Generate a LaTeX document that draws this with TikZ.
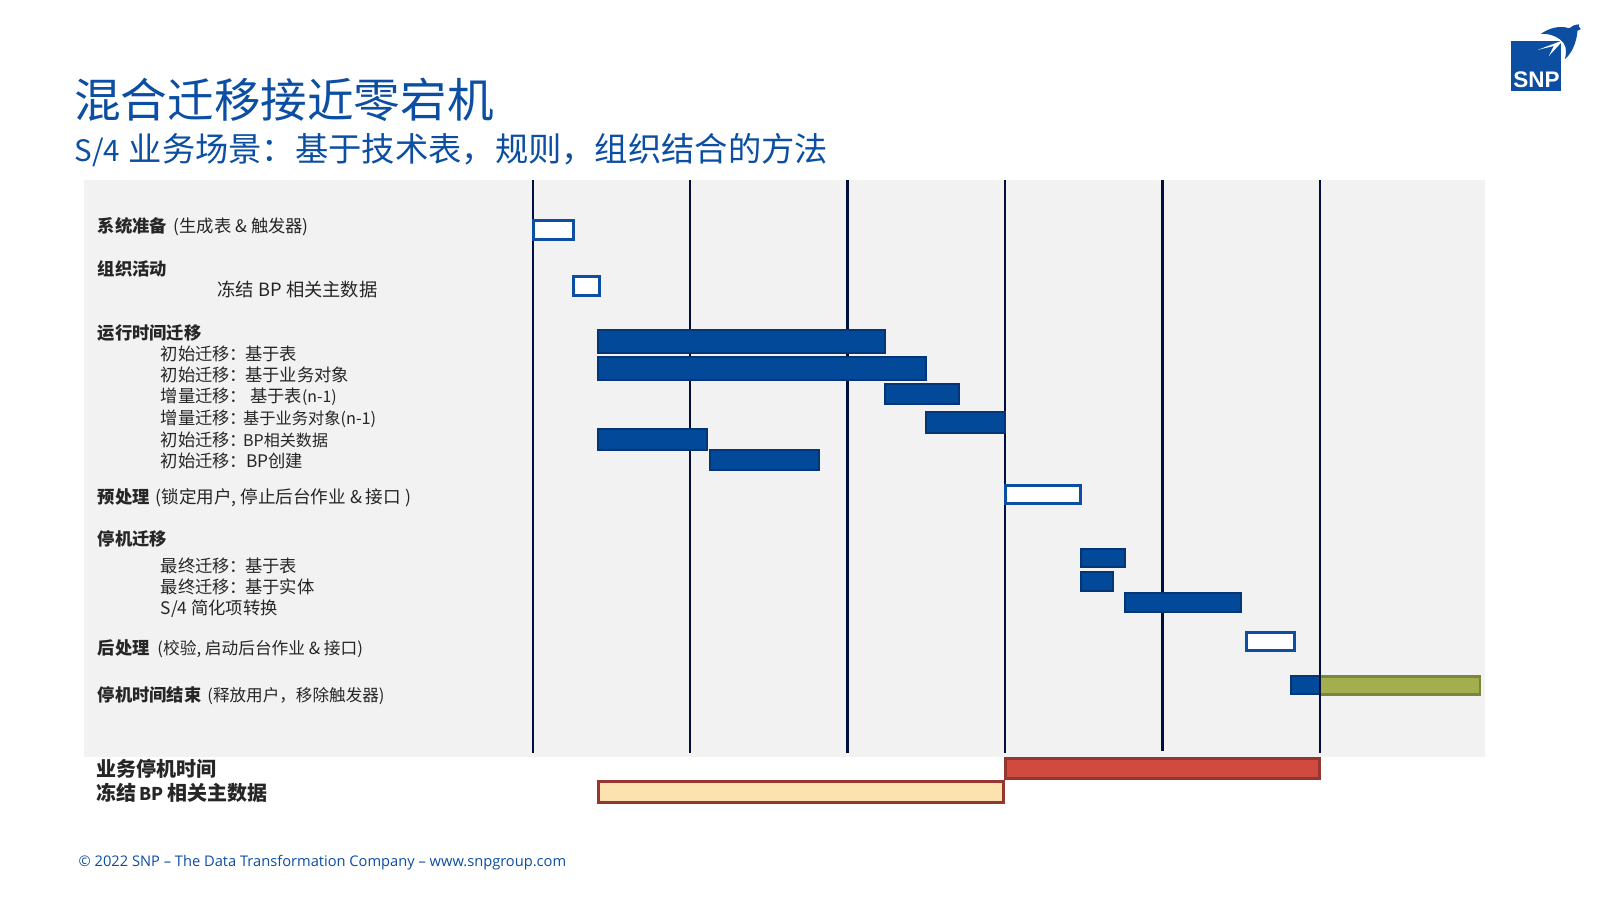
\documentclass[tikz,border=0pt]{standalone}
\usepackage{fontspec}
\setmainfont{Noto Sans CJK SC}
\newfontfamily\footfont{Open Sans}
\newfontfamily\logofont{Liberation Sans}
\definecolor{snpblue}{HTML}{0B4EA2}
\definecolor{barblue}{HTML}{03499A}
\definecolor{barline}{HTML}{043677}
\definecolor{panelgrey}{HTML}{F2F2F2}
\definecolor{rulenavy}{HTML}{000F3C}
\definecolor{redfill}{HTML}{CF4B40}
\definecolor{redline}{HTML}{963630}
\definecolor{creamfill}{HTML}{FCE2AE}
\definecolor{greenfill}{HTML}{A3AF4E}
\definecolor{greenline}{HTML}{7B853B}
\definecolor{textdark}{HTML}{262626}
\newcommand{\fs}[1]{\fontsize{#1}{#1}\selectfont}
\tikzset{
  lab/.style={anchor=west,inner sep=0pt,text=textdark,font=\fs{4.92},text height=0.152cm,text depth=0.021cm},
  boldlab/.style={anchor=west,inner sep=0pt,text=textdark,font=\fs{5.69}\bfseries,text height=0.176cm,text depth=0.024cm},
  rule/.style={draw=rulenavy,line width=0.02cm},
  rulethick/.style={draw=rulenavy,line width=0.03cm},
  bluebar/.style={draw=barline,fill=barblue,line width=0.024cm},
  openbar/.style={draw=snpblue,fill=white,line width=0.026cm},
  redbar/.style={draw=redline,fill=redfill,line width=0.026cm},
  creambar/.style={draw=redline,fill=creamfill,line width=0.026cm},
  greenbar/.style={draw=greenline,fill=greenfill,line width=0.026cm}
}
\begin{document}
\begin{tikzpicture}[x=0.01cm,y=-0.01cm]
\useasboundingbox (0,0) rectangle (1600,900);
\fill[white] (0,0) rectangle (1600,900);
% panel
\fill[panelgrey] (84,180) rectangle (1485,757);
% logo
\fill[snpblue] (1511,41) rectangle (1561,91);
\begin{scope}[shift={(1480,10)},x=0.003333cm,y=-0.003333cm]
\fill[snpblue] (183,72) .. controls (205,55) and (240,45) .. (268,55) .. controls (275,48) and (285,44) .. (298,43) -- (297,50) -- (303,57) -- (293,62) .. controls (290,100) and (275,130) .. (255,148) .. controls (262,120) and (258,100) .. (240,88) .. controls (222,76) and (205,70) .. (183,72) -- cycle;
\fill[white] (244,93) -- (173,120) -- (222,108) -- (207,138) -- (244,98) -- cycle;
\end{scope}
\node[anchor=center,inner sep=0pt,text=white,font=\logofont\fs{6.4}\bfseries] (logotext) at (1536.5,80) {SNP};
% title
\node[anchor=west,inner sep=0pt,text=snpblue,font=\fs{13.26},text height=0.41cm,text depth=0.056cm] (title) at (73.5,100) {混合迁移接近零宕机};
\node[anchor=west,inner sep=0pt,text=snpblue,font=\fs{9.47},text height=0.293cm,text depth=0.04cm] (subtitle) at (74,149) {{\fs{8.4}S/4}\hspace{0.01cm} 业务场景：基于技术表，规则，组织结合的方法};
% bars under the rules
\draw[bluebar] (1291,676) rectangle (1320,694);
\draw[greenbar] (1320,676.5) rectangle (1480,694.5);
% rules
\draw[rule] (533,180) -- (533,753);
\draw[rule] (690,180) -- (690,753);
\draw[rulethick] (847,180) -- (847,753);
\draw[rule] (1005,180) -- (1005,753);
\draw[rulethick] (1162.5,180) -- (1162.5,751);
\draw[rule] (1320,180) -- (1320,753);
% bars
\draw[openbar] (533.5,220.5) rectangle (573.5,239.5);
\draw[openbar] (573.5,276.5) rectangle (599.5,295.5);
\draw[bluebar] (598,330) rectangle (885,353);
\draw[bluebar] (598,357) rectangle (926,380);
\draw[bluebar] (885,384) rectangle (959,404);
\draw[bluebar] (926,412) rectangle (1005,433);
\draw[bluebar] (598,429) rectangle (707,450);
\draw[bluebar] (710,450) rectangle (819,470);
\draw[openbar] (1005.5,485.5) rectangle (1080.5,503.5);
\draw[bluebar] (1081,549) rectangle (1125,567);
\draw[bluebar] (1081,572) rectangle (1113,591);
\draw[bluebar] (1125,593) rectangle (1241,612);
\draw[openbar] (1246.5,632.5) rectangle (1294.5,650.5);
\draw[redbar] (1005.5,758.5) rectangle (1319.5,778.5);
\draw[creambar] (598.5,781.5) rectangle (1003.5,802.5);
% labels
\node[lab] (l1) at (97,226) {{\bfseries 系统准备}\hspace{0.03cm} (生成表 \& 触发器)};
\node[lab] (l2) at (97,269) {\bfseries 组织活动};
\node[lab,font=\fs{5.2},text height=0.161cm,text depth=0.022cm] (l3) at (217,290) {冻结 BP 相关主数据};
\node[lab] (l4) at (97,333) {\bfseries 运行时间迁移};
\node[lab] (l5) at (160,354) {初始迁移：\hspace{-0.02cm}基于表};
\node[lab] (l6) at (160,375) {初始迁移：\hspace{-0.02cm}基于业务对象};
\node[lab] (l7) at (160,396) {增量迁移：\hspace{0.03cm}基于表{\fs{4.5}(n-1)}};
\node[lab] (l8) at (160,418) {增量迁移：\hspace{-0.04cm}{\fs{4.62}基于业务对象(n-1)}};
\node[lab] (l9) at (160,440) {初始迁移：\hspace{-0.04cm}{\fs{4.56}BP相关数据}};
\node[lab] (l10) at (160,461) {初始迁移：\hspace{-0.01cm}BP创建};
\node[lab] (l11) at (97,497) {{\bfseries 预处理}\hspace{0.02cm} {\fs{5.0}(锁定用户, 停止后台作业 \& 接口 )}};
\node[lab] (l12) at (97,539) {\bfseries 停机迁移};
\node[lab] (l13) at (160,566) {最终迁移：\hspace{-0.02cm}基于表};
\node[lab] (l14) at (160,587) {最终迁移：\hspace{-0.02cm}基于实体};
\node[lab] (l15) at (160,608) {S/4 简化项转换};
\node[lab] (l16) at (97,648) {{\bfseries 后处理}\hspace{0.04cm} {\fs{4.75}(校验, 启动后台作业 \& 接口)}};
\node[lab] (l17) at (97,695) {{\bfseries 停机时间结束}\hspace{0.02cm} {\fs{4.72}(释放用户，移除触发器)}};
\node[boldlab] (l18) at (96,769) {业务停机时间};
\node[boldlab] (l19) at (96,793) {冻结\hspace{0.03cm}{\fs{5.0}BP}\hspace{0.03cm}相关主数据};
\node[anchor=west,inner sep=0pt,text=snpblue,font=\footfont\fs{4.17}] (foot) at (78,863) {© 2022 SNP – The Data Transformation Company – www.snpgroup.com};
\end{tikzpicture}
\end{document}
